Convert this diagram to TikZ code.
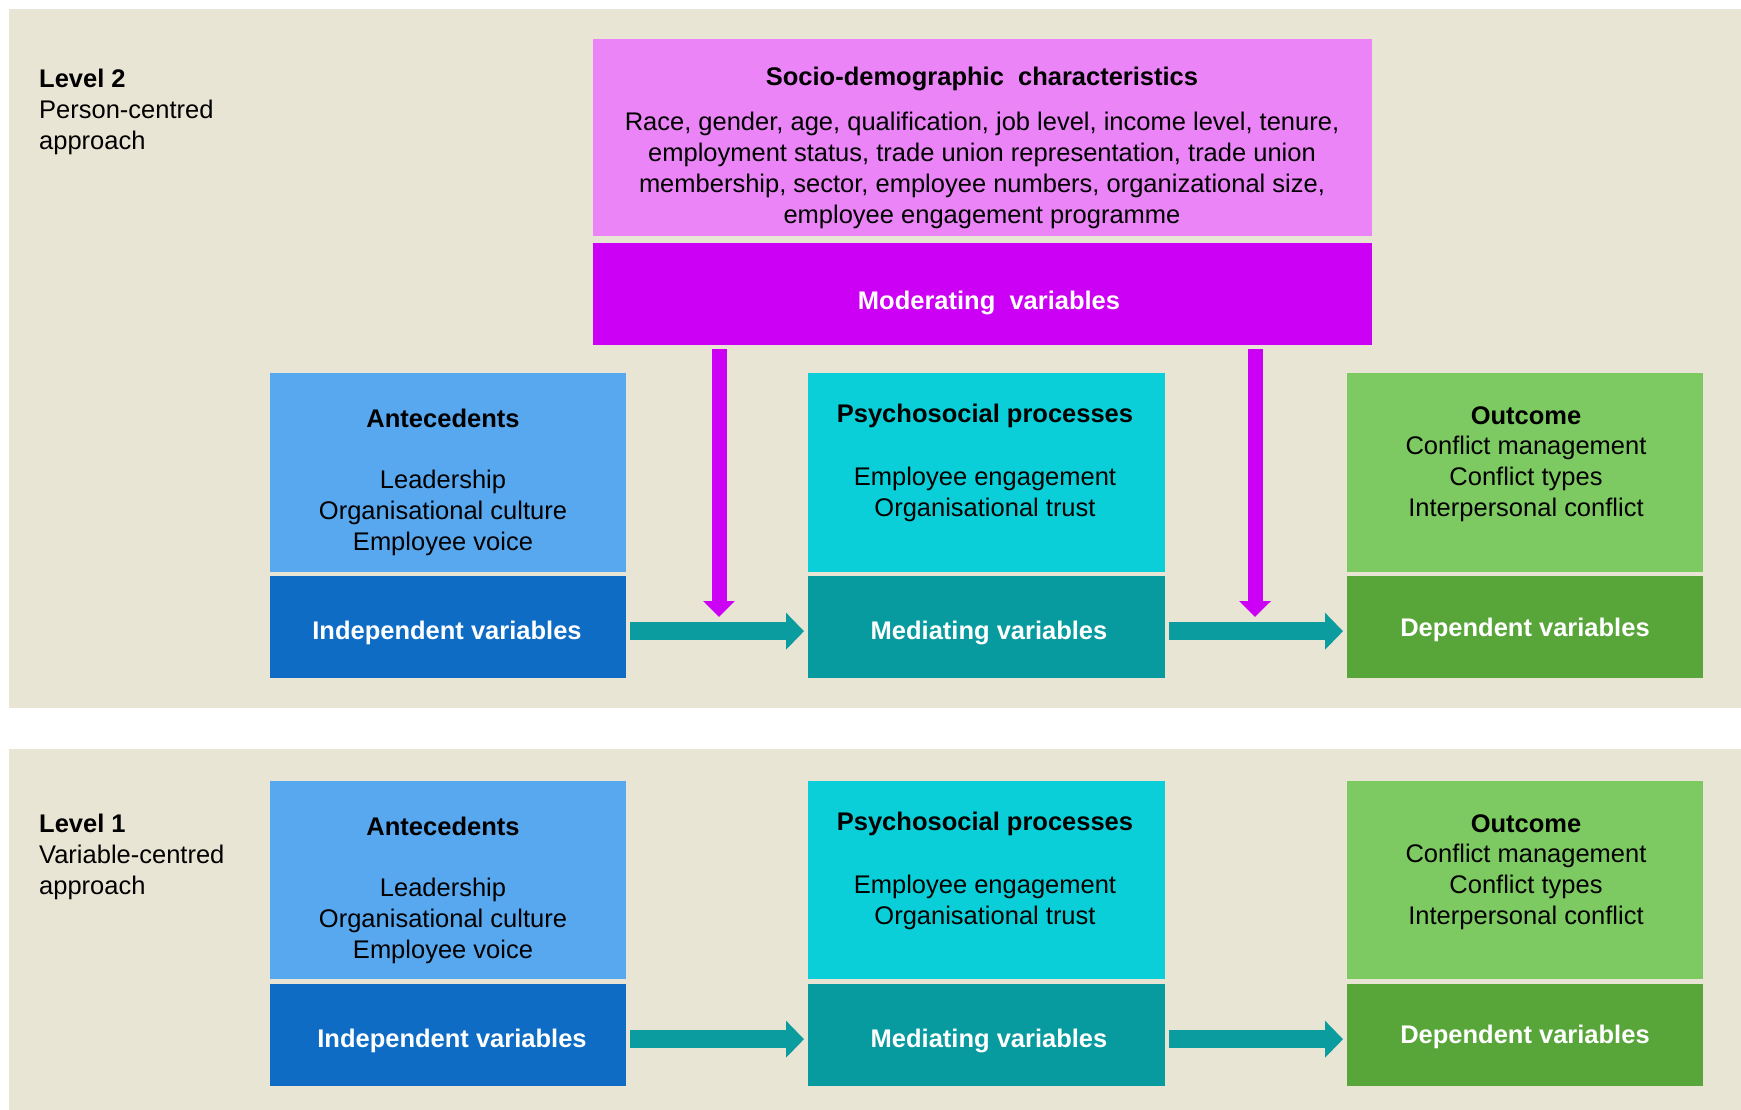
\documentclass[tikz,border=0pt]{standalone}
\usepackage{fontspec}
\setmainfont{Liberation Sans}
\usetikzlibrary{arrows.meta}
\definecolor{panelc}{RGB}{233,229,213}
\definecolor{socioc}{RGB}{234,132,247}
\definecolor{modc}{RGB}{204,0,245}
\definecolor{antc}{RGB}{88,168,240}
\definecolor{indc}{RGB}{14,108,196}
\definecolor{psyc}{RGB}{10,207,216}
\definecolor{medc}{RGB}{7,155,160}
\definecolor{outc}{RGB}{126,202,98}
\definecolor{depc}{RGB}{88,166,58}
\definecolor{flowc}{RGB}{10,156,158}
\begin{document}
\begin{tikzpicture}[x=1pt,y=-1pt,
  box/.style={rectangle, inner sep=0pt, anchor=north west, draw=none},
  txt/.style={inner sep=0pt, align=center, text=black, yshift=-2pt, font=\fontsize{25.5}{31}\selectfont},
  head/.style={txt, font=\fontsize{25.5}{31}\selectfont\bfseries},
  lab/.style={head, text=white},
  flow/.style={draw=flowc, line width=18pt, -{Triangle[width=36pt,length=18pt]}},
  modarrow/.style={draw=modc, line width=15pt, -{Triangle[width=31pt,length=16pt]}}]

% canvas and the two level panels
\useasboundingbox (0,0) rectangle (1741,1110);
\fill[white] (0,0) rectangle (1741,1110);
\fill[panelc] (9,9) rectangle (1741,708);
\fill[panelc] (9,749) rectangle (1741,1110);

% ---------------- Level 2 ----------------
\node[txt, align=left, anchor=west] (lv2) at (39,110)
  {\textbf{Level 2}\\Person-centred\\approach};

\node[box, fill=socioc, minimum width=779pt, minimum height=197pt] (socio) at (593,39) {};
\node[box, fill=modc, minimum width=779pt, minimum height=102pt] (mod) at (593,243) {};
\node[head] (sociot) at (982,77) {Socio-demographic\ \ characteristics};
\node[txt] (sociol) at (982,168) {Race, gender, age, qualification, job level, income level, tenure,\\
  employment status, trade union representation, trade union\\
  membership, sector, employee numbers, organizational size,\\
  employee engagement programme};
\node[lab] (modl) at (989,301) {Moderating\ \ variables};

% upper row of boxes
\node[box, fill=antc, minimum width=356pt, minimum height=199pt] (ant2) at (270,373) {};
\node[box, fill=indc, minimum width=356pt, minimum height=102pt] (ind2) at (270,576) {};
\node[box, fill=psyc, minimum width=357pt, minimum height=199pt] (psy2) at (808,373) {};
\node[box, fill=medc, minimum width=357pt, minimum height=102pt] (med2) at (808,576) {};
\node[box, fill=outc, minimum width=356pt, minimum height=199pt] (out2) at (1347,373) {};
\node[box, fill=depc, minimum width=356pt, minimum height=102pt] (dep2) at (1347,576) {};

\node[head] (ant2t) at (443,416) {Antecedents};
\node[txt] (ant2l) at (443,511) {Leadership\\Organisational culture\\Employee voice};
\node[lab] (ind2l) at (447,631) {Independent variables};
\node[head] (psy2t) at (985,414) {Psychosocial processes};
\node[txt] (psy2l) at (985,492) {Employee engagement\\Organisational trust};
\node[lab] (med2l) at (989,631) {Mediating variables};
\node[head] (out2t) at (1526,414) {Outcome};
\node[txt] (out2l) at (1526,477) {Conflict management\\Conflict types\\Interpersonal conflict};
\node[lab] (dep2l) at (1525,628) {Dependent variables};

% moderating influences
\coordinate (m1) at (719,617);
\coordinate (m2) at (1255,617);
\coordinate (s1) at (mod.south -| m1);
\coordinate (s2) at (mod.south -| m2);
\draw[modarrow] ([yshift=-4pt]s1) -- (m1);
\draw[modarrow] ([yshift=-4pt]s2) -- (m2);

% main flow, level 2
\draw[flow] ([xshift=4pt,yshift=-4pt]ind2.east) -- ([xshift=-4pt,yshift=-4pt]med2.west);
\draw[flow] ([xshift=4pt,yshift=-4pt]med2.east) -- ([xshift=-4pt,yshift=-4pt]dep2.west);

% ---------------- Level 1 ----------------
\node[txt, align=left, anchor=west] (lv1) at (39,855)
  {\textbf{Level 1}\\Variable-centred\\approach};

\node[box, fill=antc, minimum width=356pt, minimum height=198pt] (ant1) at (270,781) {};
\node[box, fill=indc, minimum width=356pt, minimum height=102pt] (ind1) at (270,984) {};
\node[box, fill=psyc, minimum width=357pt, minimum height=198pt] (psy1) at (808,781) {};
\node[box, fill=medc, minimum width=357pt, minimum height=102pt] (med1) at (808,984) {};
\node[box, fill=outc, minimum width=356pt, minimum height=198pt] (out1) at (1347,781) {};
\node[box, fill=depc, minimum width=356pt, minimum height=102pt] (dep1) at (1347,984) {};

\node[head] (ant1t) at (443,824) {Antecedents};
\node[txt] (ant1l) at (443,919) {Leadership\\Organisational culture\\Employee voice};
\node[lab] (ind1l) at (452,1039) {Independent variables};
\node[head] (psy1t) at (985,822) {Psychosocial processes};
\node[txt] (psy1l) at (985,900) {Employee engagement\\Organisational trust};
\node[lab] (med1l) at (989,1039) {Mediating variables};
\node[head] (out1t) at (1526,822) {Outcome};
\node[txt] (out1l) at (1526,885) {Conflict management\\Conflict types\\Interpersonal conflict};
\node[lab] (dep1l) at (1525,1035) {Dependent variables};

% main flow, level 1
\draw[flow] ([xshift=4pt,yshift=-4pt]ind1.east) -- ([xshift=-4pt,yshift=-4pt]med1.west);
\draw[flow] ([xshift=4pt,yshift=-4pt]med1.east) -- ([xshift=-4pt,yshift=-4pt]dep1.west);
\end{tikzpicture}
\end{document}
